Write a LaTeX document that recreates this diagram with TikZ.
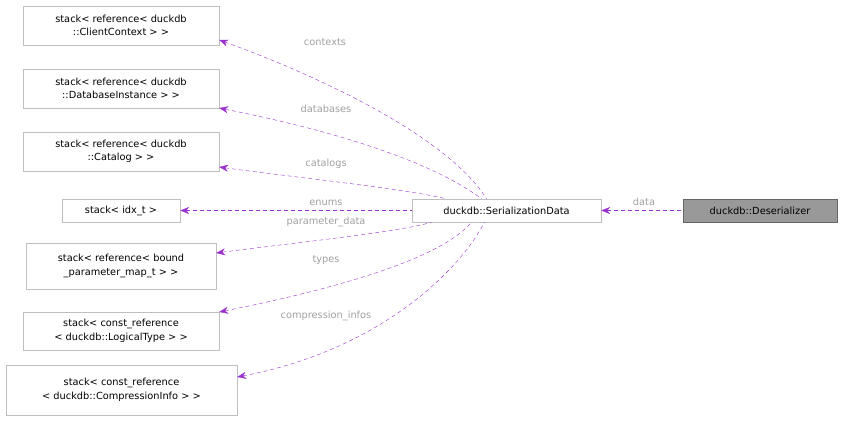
\documentclass[tikz,border=0pt]{standalone}
\usepackage{fontspec}
\setmainfont{DejaVu Sans}
\usetikzlibrary{arrows.meta}
\definecolor{edgepurple}{HTML}{9A32CD}
\definecolor{labelgray}{HTML}{A0A0A0}
\definecolor{boxgray}{HTML}{BFBFBF}
\begin{document}
\begin{tikzpicture}[x=1pt,y=-1pt,font=\fontsize{9.8}{13.5}\selectfont,
                    box/.style={draw=boxgray,fill=white,align=center,inner sep=0pt,minimum height=23pt},
                    dep/.style={edgepurple,dashed,dash pattern=on 4pt off 3pt,{Stealth[length=9pt,width=7pt]}-},
                    lbl/.style={text=labelgray}]
  \useasboundingbox (0,0) rectangle (843,421);

  \node[box,minimum width=196pt,minimum height=39pt] (ctx) at (121,25.5) {stack< reference< duckdb\\::ClientContext > >};
  \node[box,minimum width=196pt,minimum height=39pt] (db) at (121,88.5) {stack< reference< duckdb\\::DatabaseInstance > >};
  \node[box,minimum width=196pt,minimum height=39pt] (cat) at (121,151.5) {stack< reference< duckdb\\::Catalog > >};
  \node[box,minimum width=118pt] (idx) at (121,210.5) {stack< idx\_t >};
  \node[box,minimum width=190pt,minimum height=46pt] (par) at (121,266) {stack< reference< bound\\\_parameter\_map\_t > >};
  \node[box,minimum width=196pt,minimum height=38pt] (typ) at (121,331) {stack< const\_reference\\< duckdb::LogicalType > >};
  \node[box,minimum width=231pt,minimum height=50pt] (cmp) at (121.5,390) {stack< const\_reference\\< duckdb::CompressionInfo > >};
  \node[box,minimum width=189pt] (ser) at (506.5,210.5) {duckdb::SerializationData};
  \node[box,draw=black!60,fill=black!40,minimum width=154pt] (des) at (760,210.5) {duckdb::Deserializer};

  \draw[dep] (ctx.east|-0,40) .. controls (330,80) and (450,140) .. ([xshift=-20pt]ser.north);
  \draw[dep] (db.east|-0,108) .. controls (330,130) and (430,160) .. ([xshift=-25pt]ser.north);
  \draw[dep] (cat.east|-0,167) .. controls (300,178) and (400,188) .. ([xshift=-60pt]ser.north);
  \draw[dep] (idx.east) -- (ser.west);
  \draw[dep] (par.east|-0,253) .. controls (300,242) and (400,232) .. ([xshift=-75pt]ser.south);
  \draw[dep] (typ.east|-0,312) .. controls (330,290) and (440,260) .. ([xshift=-35pt]ser.south);
  \draw[dep] (cmp.east|-0,377) .. controls (380,350) and (460,270) .. ([xshift=-22pt]ser.south);
  \draw[dep] (ser.east) -- (des.west);

  \node[lbl] (lctx) at (325,42) {contexts};
  \node[lbl] (ldb) at (326,109) {databases};
  \node[lbl] (lcat) at (326,164) {catalogs};
  \node[lbl] (lidx) at (326,203) {enums};
  \node[lbl] (lpar) at (326,222) {parameter\_data};
  \node[lbl] (ltyp) at (326,260) {types};
  \node[lbl] (lcmp) at (326,316) {compression\_infos};
  \node[lbl] (ldat) at (644,202) {data};
\end{tikzpicture}
\end{document}
